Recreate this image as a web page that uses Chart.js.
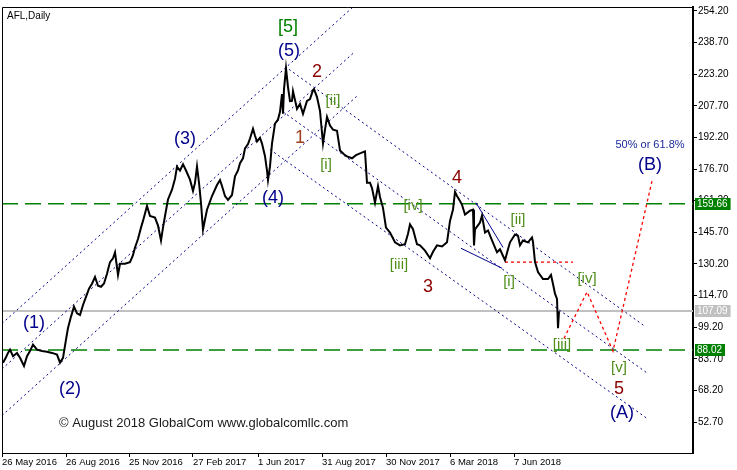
<!DOCTYPE html>
<html>
<head>
<meta charset="utf-8">
<script src="https://cdn.jsdelivr.net/npm/chart.js@4.4.1/dist/chart.umd.min.js"></script>
<style>
  body { margin: 0; background: #fff; }
</style>
</head>
<body>
<canvas id="myChart" width="737" height="470"></canvas>
<script>
/*** AFL daily, values (x = bar number from 26 May 2016) ***/
const priceBars = [1, 4, 6, 8, 11, 15, 18, 22, 25, 28, 31, 35, 40, 45, 50, 55, 58, 61, 64, 66, 69, 72, 75, 78, 81, 84, 87, 90, 93, 96, 99, 102, 105, 108, 111, 113, 116, 118, 123, 128, 131, 133, 136, 139, 141, 145, 148, 153, 156, 159, 161, 163, 166, 170, 173, 175, 178, 181, 184, 188, 191, 193, 195, 197, 199, 201, 203, 205, 210, 215, 218, 220, 223, 226, 230, 233, 236, 238, 241, 243, 246, 248, 251, 253, 255, 258, 260, 263, 265, 266, 268, 270, 273, 276, 278, 280, 281, 282, 284, 286, 288, 290, 291, 295, 298, 301, 305, 308, 311, 312, 315, 318, 321, 323, 325, 328, 331, 335, 338, 342, 345, 350, 354, 358, 363, 365, 368, 370, 373, 376, 378, 381, 384, 388, 393, 398, 403, 406, 408, 411, 415, 418, 423, 428, 431, 435, 440, 445, 448, 451, 453, 455, 458, 460, 463, 468, 471, 472, 473, 478, 480, 483, 486, 490, 495, 498, 503, 506, 508, 513, 516, 518, 521, 526, 530, 531, 533, 536, 541, 546, 549, 551, 553, 555, 556, 557];
const priceVals = [81.8, 84.5, 86.6, 88.2, 85.0, 86.6, 84.2, 80.2, 85.0, 87.5, 90.7, 88.2, 87.5, 87.2, 86.6, 85.8, 81.8, 84.2, 93.1, 98.8, 104.4, 109.3, 106.0, 105.2, 110.1, 114.1, 118.1, 120.5, 123.8, 119.5, 119.0, 120.6, 125.4, 131.1, 133.0, 135.9, 124.8, 130.3, 130.3, 131.1, 134.5, 138.3, 142.4, 148.0, 151.3, 158.6, 153.7, 152.9, 149.0, 141.7, 148.0, 153.7, 161.8, 166.6, 172.0, 177.9, 176.0, 179.0, 176.0, 171.5, 166.0, 170.0, 178.0, 170.0, 160.0, 147.0, 152.0, 156.8, 163.5, 168.9, 171.3, 168.4, 163.5, 161.6, 164.0, 173.2, 176.0, 179.6, 182.0, 186.8, 189.0, 191.7, 196.5, 193.0, 190.2, 192.0, 189.2, 183.0, 176.0, 171.3, 178.0, 189.2, 199.0, 201.0, 204.8, 213.5, 203.8, 215.9, 226.1, 216.9, 210.0, 210.1, 214.9, 206.2, 208.6, 203.8, 210.1, 211.0, 215.4, 215.9, 212.0, 205.2, 189.2, 196.0, 202.3, 198.0, 196.0, 195.5, 185.8, 184.0, 182.9, 182.0, 183.5, 184.4, 185.4, 170.0, 170.0, 167.4, 160.2, 168.4, 163.0, 157.7, 148.0, 145.6, 140.8, 139.3, 139.9, 145.0, 149.6, 147.2, 139.9, 139.3, 136.7, 133.0, 136.2, 139.3, 138.8, 140.8, 151.3, 156.9, 165.5, 163.5, 161.0, 159.2, 154.4, 156.3, 156.8, 139.3, 147.1, 150.5, 153.9, 145.6, 146.6, 141.7, 135.9, 137.4, 132.0, 137.4, 140.8, 144.6, 144.0, 139.3, 141.7, 140.8, 143.2, 141.0, 131.1, 126.2, 122.8, 122.8, 124.8, 120.4, 115.6, 113.1, 98.7, 107.1];

const dateTickBars = [0, 64, 127, 191, 256, 320, 384, 448, 512];
const dateLabels = ["26 May 2016", "26 Aug 2016", "25 Nov 2016", "27 Feb 2017", "1 Jun 2017", "31 Aug 2017", "30 Nov 2017", "6 Mar 2018", "7 Jun 2018"];
const priceTicks = [52.70, 68.20, 83.70, 99.20, 114.70, 130.20, 145.70, 161.20, 176.70, 192.20, 207.70, 223.20, 238.70, 254.20];

// horizontal levels
const greenLevels = [159.66, 88.02];
const lastPrice = 107.09;

// trend channels: [bar0, value0, bar1, value1]
const risingChannel = [
  [0, 101.0, 350, 255.7],
  [0, 78.7, 351, 233.4],
  [0, 55.9, 355, 212.5]
];
const fallingChannel = [
  [283, 227.0, 643, 99.6],
  [281, 204.8, 645, 76.8],
  [268, 186.3, 645, 54.5]
];
const wedgeLines = [
  [459, 137.9, 500, 128.1],
  [474, 160.2, 501, 138.3]
];

// projected path [iii] -> [iv] -> [v] -> (B), and the broken level
const projBars = [562, 585, 611, 650];
const projVals = [93.7, 116.5, 87.5, 170.8];
const breakLine = [503, 571, 131.1];

// wave marks: [bar, value, text, kind]
const waveLabels = [
  [286, 246.4, "[5]", "major"],
  [287, 234.8, "(5)", "inter"],
  [315, 224.1, "2", "minor"],
  [298, 191.7, "1", "minor1"],
  [331, 210.1, "[ii]", "minute"],
  [324, 178.6, "[i]", "minute"],
  [183, 191.2, "(3)", "inter"],
  [271, 162.6, "(4)", "inter"],
  [32, 101.0, "(1)", "inter"],
  [68, 69.0, "(2)", "inter"],
  [411, 158.7, "[iv]", "minute"],
  [397, 129.6, "[iii]", "minute"],
  [426, 118.9, "3", "minor"],
  [455, 172.3, "4", "minor"],
  [516, 151.9, "[ii]", "minute"],
  [507, 121.4, "[i]", "minute"],
  [585, 122.8, "[iv]", "minute"],
  [560, 90.4, "[iii]", "minute"],
  [617, 79.2, "[v]", "minute"],
  [617, 69.0, "5", "minor"],
  [620, 56.9, "(A)", "inter"],
  [648, 178.5, "(B)", "inter"],
  [648, 188.3, "50% or 61.8%", "note"]
];

const FONT = "'Liberation Sans', Arial, sans-serif";
const labelStyle = {
  major: ["#008000", 18],
  inter: ["#00008b", 18],
  minor: ["#8b0000", 18],
  minor1: ["#a0401e", 18],
  minute: ["#4f8f1a", 15],
  note: ["#1c2a9c", 11]
};

function seg(s, color, dash, width) {
  return {
    data: [{ x: s[0], y: s[1] }, { x: s[2], y: s[3] }],
    borderColor: color,
    borderDash: dash,
    borderWidth: width,
    pointRadius: 0,
    fill: false,
  };
}

const datasets = [
  {
    label: "AFL",
    data: priceBars.map((b, i) => ({ x: b, y: priceVals[i] })),
    borderColor: "#000",
    borderWidth: 2,
    pointRadius: 0,
    fill: false,
  },
  {
    data: projBars.map((b, i) => ({ x: b, y: projVals[i] })),
    borderColor: "#ff0000",
    borderDash: [3, 3],
    borderWidth: 1.3,
    pointRadius: 0,
    fill: false,
  },
  seg([breakLine[0], breakLine[2], breakLine[1], breakLine[2]], "#ff0000", [3, 3], 1.3),
];
risingChannel.concat(fallingChannel).forEach(s => datasets.push(seg(s, "#00008b", [2, 3], 1)));
wedgeLines.forEach(s => datasets.push(seg(s, "#00008b", [], 1)));
greenLevels.forEach(v => datasets.push(seg([0, v, 691, v], "#008000", [16, 7], 1.5)));
datasets.push(seg([0, lastPrice, 691, lastPrice], "#c0c0c0", [], 2));

const overlay = {
  id: "overlay",
  afterDatasetsDraw(chart) {
    const { ctx, chartArea: a, scales: { x, y } } = chart;
    ctx.save();
    ctx.textAlign = "center";
    ctx.textBaseline = "middle";
    waveLabels.forEach(l => {
      const st = labelStyle[l[3]];
      ctx.fillStyle = st[0];
      ctx.font = st[1] + "px " + FONT;
      ctx.fillText(l[2], x.getPixelForValue(l[0]), y.getPixelForValue(l[1]));
    });
    ctx.textAlign = "left";
    ctx.fillStyle = "#000";
    ctx.font = "10px " + FONT;
    ctx.fillText("AFL,Daily", a.left + 5, a.top + 9);
    ctx.fillStyle = "#1a1a1a";
    ctx.font = "13px " + FONT;
    ctx.fillText("\u00a9 August 2018 GlobalCom www.globalcomllc.com", x.getPixelForValue(57), y.getPixelForValue(52.1));
    ctx.strokeStyle = "#000";
    ctx.lineWidth = 1;
    ctx.beginPath();
    ctx.moveTo(a.left + 0.5, a.bottom);
    ctx.lineTo(a.left + 0.5, a.top + 0.5);
    ctx.lineTo(a.right, a.top + 0.5);
    ctx.stroke();
    ctx.restore();
  },
  afterDraw(chart) {
    const { ctx, chartArea: a, scales: { y } } = chart;
    ctx.save();
    ctx.font = "10px " + FONT;
    ctx.textBaseline = "middle";
    const boxes = [[greenLevels[0], "#008000"], [lastPrice, "#c0c0c0"], [greenLevels[1], "#008000"]];
    boxes.forEach(b => {
      const py = Math.round(y.getPixelForValue(b[0]));
      const t = b[0].toFixed(2);
      const w = ctx.measureText(t).width;
      ctx.fillStyle = b[1];
      ctx.fillRect(a.right + 2, py - 6, w + 5, 12);
      ctx.fillStyle = "#fff";
      ctx.fillText(t, a.right + 4, py + 0.5);
    });
    ctx.restore();
  }
};

Chart.defaults.font.family = FONT;
Chart.defaults.color = "#000";

const ctx = document.getElementById("myChart").getContext("2d");
const chart = new Chart(ctx, {
  type: "line",
  data: { datasets: datasets },
  options: {
    responsive: false,
    animation: false,
    layout: { padding: { left: 2, top: 2 } },
    plugins: { legend: { display: false }, tooltip: { enabled: false } },
    scales: {
      x: {
        type: "linear",
        min: 0,
        max: 691,
        afterBuildTicks: s => { s.ticks = dateTickBars.map(v => ({ value: v })); },
        afterFit: s => { s.height = 17; },
        ticks: {
          autoSkip: false,
          maxRotation: 0,
          align: "start",
          padding: 0,
          font: { size: 9.5 },
          callback: v => dateLabels[dateTickBars.indexOf(v)],
        },
        grid: { drawOnChartArea: false, tickLength: 4, color: "#000" },
        border: { color: "#000", width: 1 },
      },
      y: {
        type: "linear",
        position: "right",
        min: 37.54,
        max: 256.14,
        afterBuildTicks: s => { s.ticks = priceTicks.map(v => ({ value: v })); },
        afterFit: s => { s.width = 44; },
        ticks: {
          padding: 1,
          font: { size: 10 },
          callback: v => v.toFixed(2),
        },
        grid: { drawOnChartArea: false, tickLength: 4, color: "#000" },
        border: { color: "#000", width: 2 },
      },
    },
  },
  plugins: [overlay],
});
</script>
</body>
</html>
